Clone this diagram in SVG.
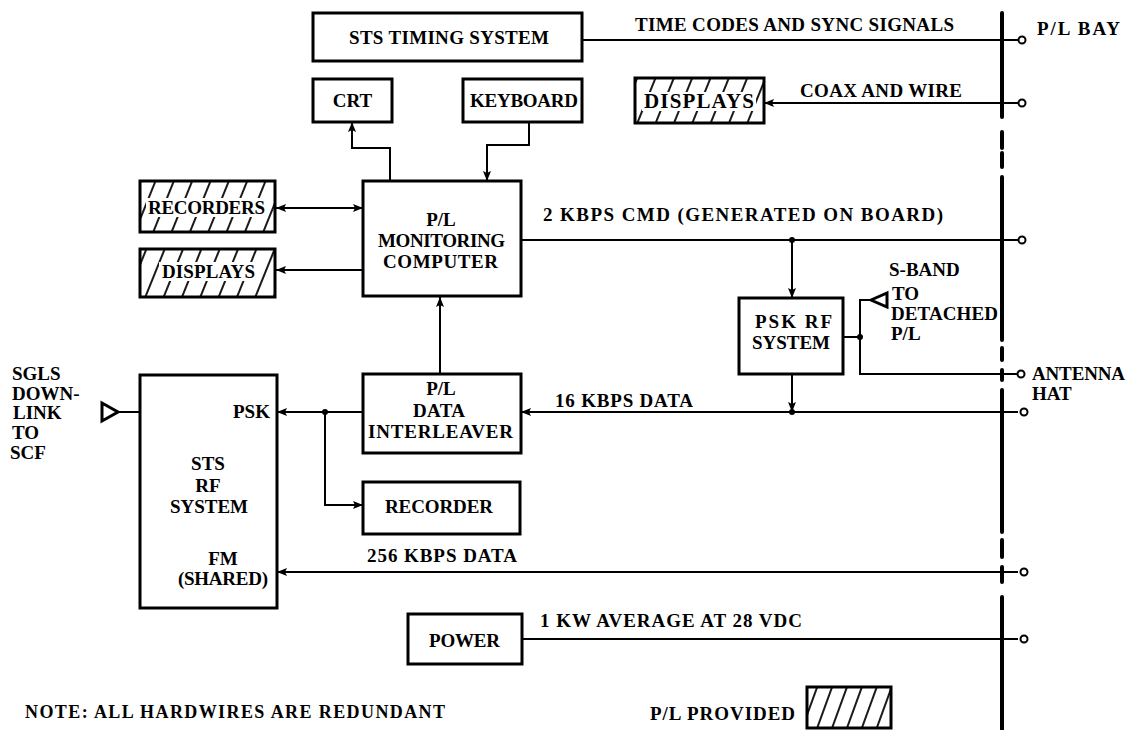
<svg xmlns="http://www.w3.org/2000/svg" width="1129" height="730" viewBox="0 0 1129 730">
<defs>
<style>
.box{fill:#fff;stroke:#000;stroke-width:3}
.hbox{fill:url(#hatch);stroke:#000;stroke-width:3}
.ln{fill:none;stroke:#000;stroke-width:2}
.t{font-family:"Liberation Serif","Times New Roman",serif;font-weight:bold;font-size:19px;fill:#000}
.s{font-size:18px}
.m{text-anchor:middle}
.term{fill:#fff;stroke:#000;stroke-width:2}
.dot{fill:#000}
.plate{fill:#fff}
.bound{stroke:#000;stroke-width:4;stroke-linecap:round;fill:none}
</style>
<pattern id="hatch" patternUnits="userSpaceOnUse" width="17" height="17" patternTransform="rotate(22)">
<rect width="17" height="17" fill="#fff"/>
<line x1="8" y1="-1" x2="8" y2="18" stroke="#000" stroke-width="1.8"/>
</pattern>
<pattern id="hatch2" patternUnits="userSpaceOnUse" width="14" height="14" patternTransform="translate(2,0) rotate(20)">
<rect width="14" height="14" fill="#fff"/>
<line x1="7" y1="-1" x2="7" y2="15" stroke="#000" stroke-width="1.8"/>
</pattern>
<marker id="ar" viewBox="0 0 10 8" refX="10" refY="4" markerWidth="10" markerHeight="8" markerUnits="userSpaceOnUse" orient="auto-start-reverse">
<path d="M0,0 L10,4 L0,8 L2,4 z" fill="#000"/>
</marker>
</defs>

<g id="boundary">
<path class="bound" d="M1002,13 V117 M1002,132 V148 M1002,153 V167 M1002,177 V340 M1002,348 V360 M1002,370 V380 M1002,390 V532 M1002,540 V557 M1002,567 V582 M1002,597 V730"/>
</g>

<g id="connectors">
<path class="ln" d="M582,40 H1018"/>
<path class="ln" d="M1018,103 H764" marker-end="url(#ar)"/>
<path class="ln" d="M390,181 V148 H352 V122" marker-end="url(#ar)"/>
<path class="ln" d="M529,122 V145 H487 V181" marker-end="url(#ar)"/>
<path class="ln" d="M276,208 H363" marker-start="url(#ar)" marker-end="url(#ar)"/>
<path class="ln" d="M363,270 H276" marker-end="url(#ar)"/>
<path class="ln" d="M440,374 V297" marker-end="url(#ar)"/>
<path class="ln" d="M521,240 H1018"/>
<path class="ln" d="M792,240 V298" marker-end="url(#ar)"/>
<path class="ln" d="M792,374 V412" marker-end="url(#ar)"/>
<path class="ln" d="M1018,412 H521" marker-end="url(#ar)"/>
<path class="ln" d="M843,337 H860"/>
<path class="ln" d="M871,300 H860 V374 H1017"/>
<path class="ln" d="M363,412 H277" marker-end="url(#ar)"/>
<path class="ln" d="M325,412 V505 H363" marker-end="url(#ar)"/>
<path class="ln" d="M1018,572 H277" marker-end="url(#ar)"/>
<path class="ln" d="M522,639 H1018"/>
<path class="ln" d="M118,412 H140"/>
<circle class="dot" cx="792" cy="240" r="3"/>
<circle class="dot" cx="792" cy="412" r="3"/>
<circle class="dot" cx="860" cy="337" r="3"/>
<circle class="dot" cx="325" cy="412" r="3"/>
<circle class="term" cx="1022" cy="40" r="3.5"/>
<circle class="term" cx="1022" cy="103" r="3.5"/>
<circle class="term" cx="1022" cy="240" r="3.5"/>
<circle class="term" cx="1021" cy="374" r="3.5"/>
<circle class="term" cx="1024" cy="412" r="3.5"/>
<circle class="term" cx="1024" cy="572" r="3.5"/>
<circle class="term" cx="1024" cy="639" r="3.5"/>
<text class="t" x="635" y="31" textLength="319" lengthAdjust="spacing">TIME CODES AND SYNC SIGNALS</text>
<text class="t" x="800" y="97" textLength="162" lengthAdjust="spacing">COAX AND WIRE</text>
<text class="t" x="543" y="221" textLength="400" lengthAdjust="spacing">2 KBPS CMD (GENERATED ON BOARD)</text>
<text class="t" x="555" y="407" textLength="138" lengthAdjust="spacing">16 KBPS DATA</text>
<text class="t" x="367" y="562" textLength="150" lengthAdjust="spacing">256 KBPS DATA</text>
<text class="t" x="540" y="627" textLength="262" lengthAdjust="spacing">1 KW AVERAGE AT 28 VDC</text>
</g>

<g id="labels">
<text class="t" x="1037" y="35" textLength="83" lengthAdjust="spacing">P/L BAY</text>
<text class="t" x="1032" y="380" textLength="93" lengthAdjust="spacing">ANTENNA</text>
<text class="t" x="1032" y="400">HAT</text>
<text class="t" x="12" y="380">SGLS</text>
<text class="t" x="12" y="400">DOWN-</text>
<text class="t" x="13" y="419">LINK</text>
<text class="t" x="12" y="439">TO</text>
<text class="t" x="10" y="459">SCF</text>
<text class="t s" x="25" y="718" textLength="420" lengthAdjust="spacing">NOTE:  ALL HARDWIRES ARE REDUNDANT</text>
</g>

<g id="sgls-antenna">
<path d="M102,403 L118,412 L102,421 z" fill="#fff" stroke="#000" stroke-width="3" stroke-linejoin="miter"/>
</g>

<g id="sband-antenna">
<path d="M871,300 L887,293 L887,307 z" fill="#fff" stroke="#000" stroke-width="3"/>
<text class="t" x="889" y="276">S-BAND</text>
<text class="t" x="892" y="300">TO</text>
<text class="t" x="891" y="320" textLength="107" lengthAdjust="spacing">DETACHED</text>
<text class="t" x="891" y="340">P/L</text>
</g>

<g id="sts-timing">
<rect class="box" x="313" y="13" width="269" height="48"/>
<text class="t" x="349" y="44" textLength="200" lengthAdjust="spacing">STS TIMING SYSTEM</text>
</g>

<g id="crt">
<rect class="box" x="313" y="79" width="79" height="43"/>
<text class="t m" x="352.5" y="107">CRT</text>
</g>

<g id="keyboard">
<rect class="box" x="463" y="79" width="119" height="43"/>
<text class="t" x="470" y="107" textLength="108" lengthAdjust="spacing">KEYBOARD</text>
</g>

<g id="displays-top">
<rect class="hbox" x="635" y="78" width="129" height="45"/>
<rect class="plate" x="642" y="92" width="114" height="19"/>
<text class="t" x="644" y="108" style="font-size:21px" textLength="110" lengthAdjust="spacing">DISPLAYS</text>
</g>

<g id="recorders">
<rect class="hbox" x="140" y="181" width="135" height="51"/>
<rect class="plate" x="146" y="198" width="121" height="19"/>
<text class="t" x="148" y="214" textLength="117" lengthAdjust="spacing">RECORDERS</text>
</g>

<g id="displays-left">
<rect class="hbox" x="140" y="249" width="135" height="48"/>
<rect class="plate" x="159" y="262" width="99" height="19"/>
<text class="t" x="162" y="278" textLength="93" lengthAdjust="spacing">DISPLAYS</text>
</g>

<g id="computer">
<rect class="box" x="363" y="181" width="158" height="115"/>
<text class="t m" x="441" y="226">P/L</text>
<text class="t" x="378" y="247" textLength="127" lengthAdjust="spacing">MONITORING</text>
<text class="t" x="383" y="268" textLength="115" lengthAdjust="spacing">COMPUTER</text>
</g>

<g id="psk-rf">
<rect class="box" x="739" y="298" width="104" height="76"/>
<text class="t" x="755" y="328" textLength="77" lengthAdjust="spacing">PSK RF</text>
<text class="t" x="752" y="349" textLength="78" lengthAdjust="spacing">SYSTEM</text>
</g>

<g id="interleaver">
<rect class="box" x="363" y="374" width="158" height="79"/>
<text class="t m" x="441" y="395">P/L</text>
<text class="t" x="413" y="417" textLength="52" lengthAdjust="spacing">DATA</text>
<text class="t" x="368" y="438" textLength="145" lengthAdjust="spacing">INTERLEAVER</text>
</g>

<g id="sts-rf">
<rect class="box" x="140" y="375" width="137" height="233"/>
<text class="t" x="233" y="418">PSK</text>
<text class="t m" x="208" y="470">STS</text>
<text class="t m" x="208" y="492">RF</text>
<text class="t" x="170" y="513" textLength="78" lengthAdjust="spacing">SYSTEM</text>
<text class="t m" x="223" y="565">FM</text>
<text class="t" x="178" y="585" textLength="90" lengthAdjust="spacing">(SHARED)</text>
</g>

<g id="recorder">
<rect class="box" x="363" y="482" width="157" height="52"/>
<text class="t" x="385" y="513" textLength="108" lengthAdjust="spacing">RECORDER</text>
</g>

<g id="power">
<rect class="box" x="408" y="614" width="114" height="50"/>
<text class="t" x="429" y="647" textLength="71" lengthAdjust="spacing">POWER</text>
</g>

<g id="legend">
<text class="t" x="650" y="720" textLength="145" lengthAdjust="spacing">P/L PROVIDED</text>
<rect fill="url(#hatch2)" stroke="#000" stroke-width="3" x="807" y="687" width="84" height="41"/>
</g>
</svg>
